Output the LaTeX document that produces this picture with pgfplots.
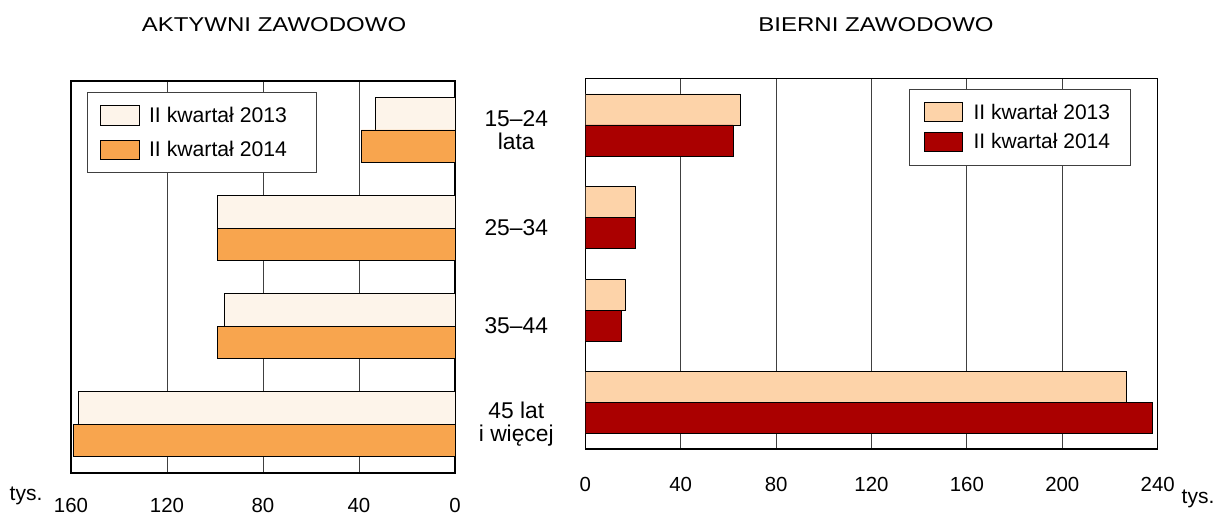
\documentclass[border=0pt]{standalone}
\usepackage{fontspec}
\setmainfont{Liberation Sans}
\usepackage{pgfplots}
\usepackage{pgfplotstable}
\pgfplotsset{compat=1.18}

\definecolor{aktA}{HTML}{FDF4EA}
\definecolor{aktB}{HTML}{F8A54E}
\definecolor{bierA}{HTML}{FDD3A9}
\definecolor{bierB}{HTML}{AA0000}
\definecolor{gridc}{HTML}{404040}

% tys. osob, II kwartal 2013 / 2014
\pgfplotstableread{
pos y2013 y2014
0 33 39
1 99 99
2 96 99
3 157 159
}\aktywni
\pgfplotstableread{
pos y2013 y2014
0 65 62
1 21 21
2 17 15
3 227 238
}\bierni

\pgfplotsset{
  panel/.style={
    xbar, scale only axis, y dir=reverse,
    ymin=-0.5, ymax=3.5,
    bar width=0.335,
    axis line style={black, line width=1.2pt},
    xmajorgrids, grid style={gridc, line width=0.9pt},
    tick style={draw=none},
    /pgf/number format/assume math mode=true,
    xticklabel style={font=\fontsize{20.4}{24}\selectfont, anchor=center, yshift=-35pt},
    legend cell align=left,
  },
  sw/.style={legend image code/.code={\draw[##1] (0pt,-9.7pt) rectangle (38.4pt,9.7pt);}},
  barline/.style={draw=black, line width=0.9pt},
}

\begin{document}
\begin{tikzpicture}[x=1pt,y=1pt]
\path[use as bounding box] (0,0) rectangle (1216,516);

\node at (274,491) {\fontsize{20}{22}\selectfont\scalebox{1.2}[1]{AKTYWNI ZAWODOWO}};
\node at (876,491) {\fontsize{20}{22}\selectfont\scalebox{1.2}[1]{BIERNI ZAWODOWO}};
\node at (26,20) {\fontsize{21}{24}\selectfont tys.};
\node at (1198,17) {\fontsize{21}{24}\selectfont tys.};

\begin{axis}[panel,
    at={(71pt,43pt)}, anchor=south west,
    width=384pt, height=392pt,
    x dir=reverse, xmin=0, xmax=160,
    xtick={0,40,...,160},
    xticklabel style={yshift=3pt},
    ytick={0,1,2,3},
    yticklabels={{15--24\\lata},{25--34},{35--44},{45 lat\\i więcej}},
    yticklabel pos=right,
    yticklabel style={align=center, anchor=center, xshift=57pt,
        font=\fontsize{22.8}{23}\selectfont},
    legend style={at={(0.0409,0.9712)}, anchor=north west,
        draw=black!75, line width=1pt,
        font=\fontsize{21.2}{24}\selectfont,
        inner xsep=13.3pt, inner ysep=12.5pt,
        nodes={inner sep=0pt}, row sep=14pt, column sep=9.3pt},
]
\addplot[fill=aktA, barline, bar shift=-0.1675, sw] table[x=y2013, y=pos] {\aktywni};
\addlegendentry{II kwartał 2013\hspace*{16pt}}
\addplot[fill=aktB, barline, bar shift=0.1675, sw] table[x=y2014, y=pos] {\aktywni};
\addlegendentry{II kwartał 2014\hspace*{16pt}}
\end{axis}

\begin{axis}[panel,
    at={(585.3pt,67pt)}, anchor=south west,
    width=572.4pt, height=370.3pt,
    xmin=0, xmax=240,
    xtick={0,40,...,240},
    ytick=\empty,
    legend style={at={(0.953,0.973)}, anchor=north east,
        draw=black!75, line width=1pt,
        font=\fontsize{21}{24}\selectfont,
        inner xsep=14.2pt, inner ysep=12.9pt,
        nodes={inner sep=0pt}, row sep=9.5pt, column sep=10.7pt},
]
\addplot[fill=bierA, barline, bar shift=-0.1675, sw] table[x=y2013, y=pos] {\bierni};
\addlegendentry{II kwartał 2013\hspace*{6pt}}
\addplot[fill=bierB, barline, bar shift=0.1675, sw] table[x=y2014, y=pos] {\bierni};
\addlegendentry{II kwartał 2014\hspace*{6pt}}
\end{axis}
\end{tikzpicture}
\end{document}
